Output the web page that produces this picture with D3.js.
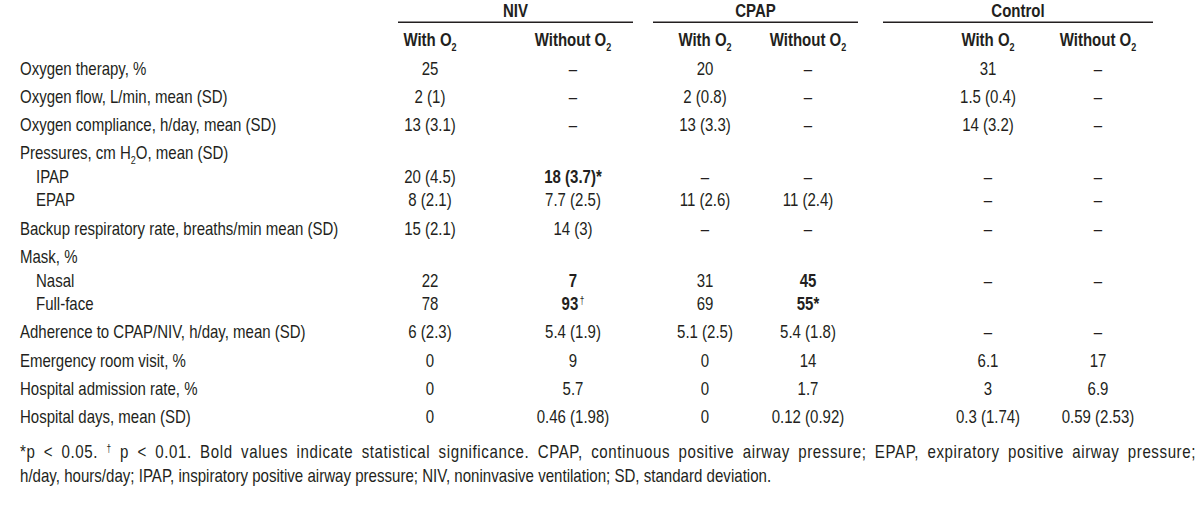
<!DOCTYPE html>
<html>
<head>
<meta charset="utf-8">
<script src="https://cdn.jsdelivr.net/npm/d3@7"></script>
<style>
  html, body { margin: 0; padding: 0; background: #fff; }
  svg { display: block; }
</style>
</head>
<body>
<svg id="chart" width="1200" height="513"></svg>
<script>
// ---------------- DATA ----------------
const groups = ["NIV", "CPAP", "Control"];
const subHeaders = ["With O", "Without O"]; // followed by subscript 2
const columns = ["nivWith", "nivWithout", "cpapWith", "cpapWithout", "ctrlWith", "ctrlWithout"];

const rowLabels = [
  "Oxygen therapy, %",
  "Oxygen flow, L/min, mean (SD)",
  "Oxygen compliance, h/day, mean (SD)",
  "Pressures, cm H|2|O, mean (SD)",
  "IPAP",
  "EPAP",
  "Backup respiratory rate, breaths/min mean (SD)",
  "Mask, %",
  "Nasal",
  "Full-face",
  "Adherence to CPAP/NIV, h/day, mean (SD)",
  "Emergency room visit, %",
  "Hospital admission rate, %",
  "Hospital days, mean (SD)"
];
const rowIsSub = [false, false, false, false, true, true, false, false, true, true, false, false, false, false];

const nivWith     = ["25", "2 (1)", "13 (3.1)", "", "20 (4.5)", "8 (2.1)", "15 (2.1)", "", "22", "78", "6 (2.3)", "0", "0", "0"];
const nivWithout  = ["–", "–", "–", "", "18 (3.7)*", "7.7 (2.5)", "14 (3)", "", "7", "93†", "5.4 (1.9)", "9", "5.7", "0.46 (1.98)"];
const cpapWith    = ["20", "2 (0.8)", "13 (3.3)", "", "–", "11 (2.6)", "–", "", "31", "69", "5.1 (2.5)", "0", "0", "0"];
const cpapWithout = ["–", "–", "–", "", "–", "11 (2.4)", "–", "", "45", "55*", "5.4 (1.8)", "14", "1.7", "0.12 (0.92)"];
const ctrlWith    = ["31", "1.5 (0.4)", "14 (3.2)", "", "–", "–", "–", "", "–", "", "–", "6.1", "3", "0.3 (1.74)"];
const ctrlWithout = ["–", "–", "–", "", "–", "–", "–", "", "–", "", "–", "17", "6.9", "0.59 (2.53)"];

// cells in bold (row index, column key)
const boldCells = [[4, "nivWithout"], [8, "nivWithout"], [9, "nivWithout"], [8, "cpapWithout"], [9, "cpapWithout"]];

const footnotes = [
  "*p < 0.05. |†| p < 0.01. Bold values indicate statistical significance. CPAP, continuous positive airway pressure; EPAP, expiratory positive airway pressure;",
  "h/day, hours/day; IPAP, inspiratory positive airway pressure; NIV, noninvasive ventilation; SD, standard deviation."
];

// ---------------- LAYOUT ----------------
const series = { nivWith, nivWithout, cpapWith, cpapWithout, ctrlWith, ctrlWithout };
const svg = d3.select("#chart");
const INK = "#231f20";

function measure(family) {
  const t = svg.append("text").attr("font-family", family).attr("font-size", 100)
    .text("Backup respiratory rate mean");
  const w = t.node().getComputedTextLength();
  t.remove();
  return w;
}
let FONT = "'Liberation Sans Narrow', 'Arial Narrow', sans-serif";
let SX = 1;
if (Math.abs(measure("'Liberation Sans Narrow', monospace") - measure("monospace")) < 0.5) {
  FONT = "'Liberation Sans', Arial, sans-serif";
  SX = 0.82;
}

const FS = 18.3;        // body font size
const FS_FOOT = 18.4;   // footnote font size
const CAP = 0.36;       // half cap-height ratio -> baseline offset

const x = d3.scaleOrdinal().domain(columns).range([430, 573, 705, 808, 988, 1098]);
const groupSpan = d3.scaleOrdinal().domain(groups).range([[398, 633], [653, 858], [883, 1153]]);

// row centre positions: main step / sub step
const MAIN_STEP = 28.3, SUB_STEP = 23.5;
const yPos = [];
let yc = 68;
rowLabels.forEach((_, i) => {
  if (i > 0) yc += rowIsSub[i] ? SUB_STEP : MAIN_STEP;
  yPos.push(yc);
});
const y = d3.scaleOrdinal().domain(d3.range(rowLabels.length)).range(yPos);

function addText(sel, tx, tyCenter, anchor, weight, size) {
  const fs = size || FS;
  return sel.append("text")
    .attr("transform", `translate(${tx},${tyCenter + fs * CAP}) scale(${SX},1)`)
    .attr("text-anchor", anchor)
    .attr("font-family", FONT)
    .attr("font-size", fs)
    .attr("font-weight", weight || "normal")
    .attr("fill", INK);
}

// group headers + rules
const gHead = svg.append("g");
groups.forEach(g => {
  const [a, b] = groupSpan(g);
  addText(gHead, (a + b) / 2, 10.5, "middle", "bold").text(g);
  gHead.append("line").attr("x1", a).attr("x2", b).attr("y1", 22.3).attr("y2", 22.3)
    .attr("stroke", INK).attr("stroke-width", 1.5);
});

// sub headers
columns.forEach((c, i) => {
  const t = addText(gHead, x(c), 39.5, "middle", "bold");
  t.append("tspan").text(subHeaders[i % 2]);
  t.append("tspan").attr("font-size", FS * 0.6).attr("dy", 4.5).text("2");
});

// row labels
const gRows = svg.append("g");
rowLabels.forEach((lab, i) => {
  const t = addText(gRows, rowIsSub[i] ? 36 : 20, y(i), "start");
  lab.split("|").forEach((p, k) => {
    if (k % 2 === 1) {
      t.append("tspan").attr("font-size", FS * 0.6).attr("dy", 4.5).text(p);
    } else {
      const s = t.append("tspan").text(p);
      if (k > 0) s.attr("dy", -4.5);
    }
  });
});

// values
const boldSet = new Set(boldCells.map(d => d[0] + "_" + d[1]));
const gVals = svg.append("g");
columns.forEach(c => {
  series[c].forEach((v, i) => {
    if (!v) return;
    const bold = boldSet.has(i + "_" + c);
    const t = addText(gVals, x(c), y(i), "middle", bold ? "bold" : "normal");
    if (v.endsWith("†")) {
      t.append("tspan").text(v.slice(0, -1));
      t.append("tspan").attr("font-size", FS * 0.55).attr("font-weight", "normal")
        .attr("dx", 2).attr("dy", -6).text("†");
    } else {
      t.text(v);
    }
  });
});

// footnotes (first line justified to full width: extra space shared by letters and words)
const gFoot = svg.append("g");
const FOOT_Y = [451, 475];
const FOOT_LEFT = 20, FOOT_RIGHT = 1196;
footnotes.forEach((f, i) => {
  const t = addText(gFoot, FOOT_LEFT, FOOT_Y[i], "start", "normal", FS_FOOT);
  f.split("|").forEach((p, k) => {
    const s = t.append("tspan").text(p);
    if (k % 2 === 1) s.attr("font-size", FS_FOOT * 0.55).attr("dy", -6);
    else if (k > 0) s.attr("dy", 6);
  });
  if (i === 0) {
    const plain = f.replace(/\|/g, "");
    const w = t.node().getComputedTextLength() * SX;
    const extra = (FOOT_RIGHT - FOOT_LEFT - w) / SX;
    if (extra > 0) {
      const nChars = plain.length;
      const nSpaces = (plain.match(/ /g) || []).length;
      const ls = extra * 0.55 / nChars;
      const ws = extra * 0.45 / nSpaces;
      t.attr("letter-spacing", ls).attr("word-spacing", ws);
      // correct residual so the line ends exactly at the right margin
      const w2 = t.node().getComputedTextLength() * SX;
      const resid = (FOOT_RIGHT - FOOT_LEFT - w2) / SX;
      t.attr("word-spacing", ws + resid / nSpaces);
    }
  }
});
</script>
</body>
</html>
